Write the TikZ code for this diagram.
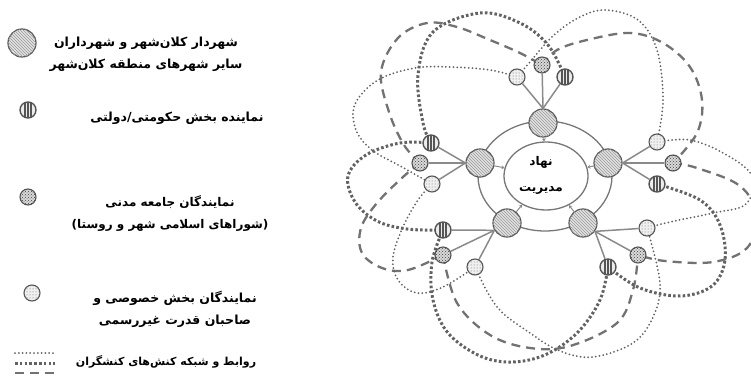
\documentclass[tikz,border=0pt]{standalone}
\usepackage{fontspec}
\newfontfamily\fa[Script=Arabic]{DejaVu Sans}
\TeXXeTstate=1
\usetikzlibrary{patterns,shapes.geometric,arrows.meta}
\pgfdeclarelayer{bg}
\pgfsetlayers{bg,main}
\definecolor{net}{HTML}{626262}
\definecolor{spoke}{HTML}{8A8A8A}
\definecolor{rim}{HTML}{555555}
\begin{document}
\begin{tikzpicture}[x=1pt,y=-1pt,
  txt/.style={align=center, inner sep=0, font=\fa\bfseries\fontsize{12.5}{22}\selectfont},
  bigc/.style={circle, minimum size=28pt, inner sep=0, draw=rim, line width=1.2pt, fill=gray!22, postaction={pattern=north west lines, pattern color=gray!80}},
  govc/.style={circle, minimum size=16pt, inner sep=0, draw=rim, line width=1.4pt, fill=gray!15,
     path picture={\foreach \o in {-3,0,3}{\draw[line width=1.4pt, rim] ([xshift=\o pt]path picture bounding box.north) -- ([xshift=\o pt]path picture bounding box.south);}}},
  civc/.style={circle, minimum size=16pt, inner sep=0, draw=rim, line width=1.1pt, fill=gray!30, postaction={pattern=crosshatch dots, pattern color=black!75}},
  pvtc/.style={circle, minimum size=16pt, inner sep=0, draw=rim, line width=1.1pt, fill=gray!12, postaction={pattern=dots, pattern color=black!60}},
  finedot/.style={draw=net, line width=2pt, line cap=round, dash pattern=on 0pt off 3.8pt},
  thickdot/.style={draw=net, line width=3pt, dash pattern=on 2.6pt off 2.2pt},
  dashln/.style={draw=net!90, line width=2.3pt, dash pattern=on 9pt off 6pt},
  spk/.style={draw=spoke, line width=1.5pt},
  ringarrow/.style={draw=spoke, line width=1pt, -{Stealth[length=3pt,width=4pt]}}
]
\useasboundingbox (0,0) rectangle (751,379);

% ---------- legend ----------
\node[bigc] (k1) at (22,43) {};
\node[govc] (k2) at (28,110) {};
\node[civc] (k3) at (28,197) {};
\node[pvtc] (k4) at (32,293) {};
\node[txt] (t1) at (146,54) {\beginR شهردار کلان‌شهر و شهرداران\endR\\\beginR سایر شهرهای منطقه کلان‌شهر\endR};
\node[txt] (t2) at (177,118) {\beginR نماینده بخش حکومتی/دولتی\endR};
\node[txt, font=\fa\bfseries\fontsize{12}{22}\selectfont] (t3) at (170,214) {\beginR نمایندگان جامعه مدنی\endR\\\beginR (شوراهای اسلامی شهر و روستا)\endR};
\node[txt] (t4) at (175,309) {\beginR نمایندگان بخش خصوصی و\endR\\\beginR صاحبان قدرت غیررسمی\endR};
\node[txt, font=\fa\bfseries\fontsize{11}{22}\selectfont] (t5) at (166,362) {\beginR روابط و شبکه کنش‌های کنشگران\endR};
\coordinate (ka1) at (15,353); \coordinate (kb1) at (55,353);
\coordinate (ka2) at (15,363); \coordinate (kb2) at (55,363);
\coordinate (ka3) at (15,373); \coordinate (kb3) at (55,373);
\draw[finedot] (ka1) -- (kb1);
\draw[thickdot] (ka2) -- (kb2);
\draw[dashln] (ka3) -- (kb3);

% ---------- core ----------
\draw[draw=rim!80, line width=1.3pt] (545,176) ellipse [x radius=67, y radius=55];
\node[ellipse, draw=rim!80, line width=1.3pt, fill=white, minimum width=84pt, minimum height=68pt, inner sep=0] (inner) at (546,176) {};
\node[txt, font=\fa\bfseries\fontsize{12}{26}\selectfont] (mt) at (541,175) {\beginR نهاد\endR\\\beginR مدیریت\endR};

\node[bigc] (T) at (543,123) {};
\node[bigc] (L) at (480,163) {};
\node[bigc] (R) at (608,163) {};
\node[bigc] (BL) at (507,223) {};
\node[bigc] (BR) at (583,223) {};

\foreach \n in {T,L,R,BL,BR} \draw[ringarrow] (\n) -- (inner);

% satellites
\node[pvtc] (tF) at (517,77) {};
\node[civc] (tC) at (542,65) {};
\node[govc] (tG) at (565,77) {};
\node[govc] (lG) at (431,143) {};
\node[civc] (lC) at (420,163) {};
\node[pvtc] (lF) at (432,184) {};
\node[pvtc] (rF) at (657,142) {};
\node[civc] (rC) at (673,163) {};
\node[govc] (rG) at (657,184) {};
\node[govc] (blG) at (443,230) {};
\node[civc] (blC) at (443,255) {};
\node[pvtc] (blF) at (475,267) {};
\node[pvtc] (brF) at (647,228) {};
\node[civc] (brC) at (638,255) {};
\node[govc] (brG) at (608,267) {};

\foreach \s in {tF,tC,tG} \draw[spk] (T.north) -- (\s);
\foreach \s in {lG,lC,lF} \draw[spk] (L.west) -- (\s);
\foreach \s in {rF,rC,rG} \draw[spk] (R.east) -- (\s);
\foreach \s in {blG,blC,blF} \draw[spk] (BL.210) -- (\s);
\foreach \s in {brF,brC,brG} \draw[spk] (BR.325) -- (\s);

% ---------- network ----------
\begin{pgfonlayer}{bg}
% top - left
\draw[thickdot] plot[smooth, tension=0.6] coordinates {(lG) (423,123) (418,75) (433,32) (480,13) (520,23) (548,45) (tG)};
\draw[dashln] plot[smooth, tension=0.6] coordinates {(lC) (404,145) (389,112) (381,72) (398,38) (427,23) (457,27) (490,40) (520,53) (tC)};
\draw[finedot] plot[smooth, tension=0.6] coordinates {(tF) (490,70) (450,67) (415,68) (378,80) (355,104) (356,130) (372,150) (402,167) (lF)};
% top - right
\draw[dashln] plot[smooth, tension=0.6] coordinates {(tC) (557,50) (587,40) (630,33) (663,43) (690,67) (702,100) (697,133) (rC)};
\draw[finedot] plot[smooth, tension=0.6] coordinates {(tF) (530,62) (553,36) (578,18) (605,10) (638,20) (657,50) (663,100) (rF)};
% left - bottom left
\draw[thickdot] plot[smooth, tension=0.6] coordinates {(lG) (400,143) (366,155) (348,176) (355,202) (377,221) (407,229) (blG)};
\draw[dashln] plot[smooth, tension=0.6] coordinates {(lC) (403,177) (377,203) (361,228) (362,253) (382,268) (408,270) (blC)};
\draw[finedot] plot[smooth, tension=0.6] coordinates {(lF) (418,200) (403,227) (393,257) (398,280) (417,293) (443,287) (blF)};
% bottom left - bottom right
\draw[thickdot] plot[smooth, tension=0.6] coordinates {(blG) (432,262) (433,300) (448,333) (480,356) (513,362) (547,354) (578,332) (600,300) (brG)};
\draw[dashln] plot[smooth, tension=0.6] coordinates {(blC) (457,303) (490,335) (530,348) (570,346) (617,323) (633,290) (brC)};
\draw[finedot] plot[smooth, tension=0.6] coordinates {(blF) (497,307) (530,333) (560,351) (593,357) (633,343) (653,317) (660,283) (brF)};
% bottom right - right
\draw[thickdot] plot[smooth, tension=0.6] coordinates {(rG) (700,200) (720,225) (725,260) (712,286) (680,296) (640,288) (brG)};
\draw[dashln] plot[smooth, tension=0.6] coordinates {(rC) (697,168) (740,186) (757,216) (747,248) (713,262) (665,261) (brC)};
\draw[finedot] plot[smooth, tension=0.6] coordinates {(rF) (690,140) (725,154) (752,176) (746,204) (713,213) (670,222) (brF)};
\end{pgfonlayer}
\end{tikzpicture}
\end{document}
